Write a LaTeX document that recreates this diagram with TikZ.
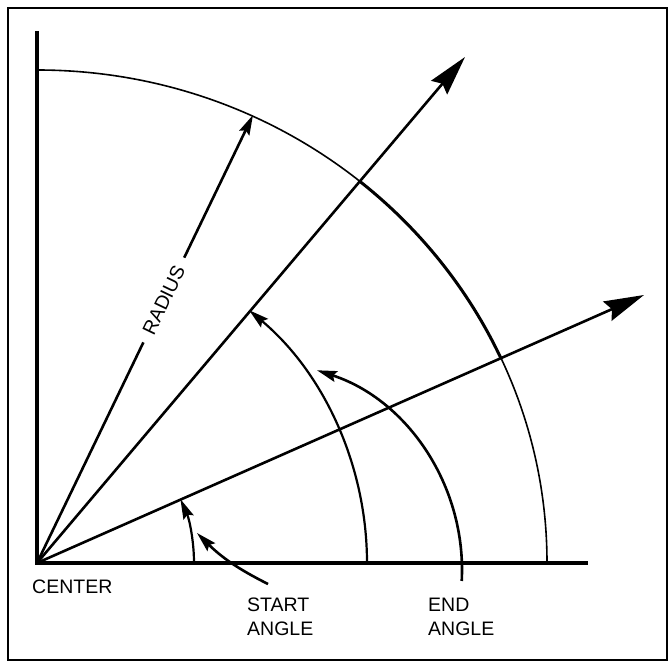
\documentclass[tikz,border=0pt]{standalone}
\usepackage{fontspec}
\setmainfont{Liberation Sans}
\usetikzlibrary{arrows.meta}
\begin{document}
\begin{tikzpicture}[x=1pt,y=1pt,
  bighead/.style={-{Stealth[length=40pt,width=21pt,inset=5pt]}},
  smallhead/.style={-{Stealth[length=20pt,width=11pt,inset=3pt]}},
  lbl/.style={font=\fontsize{19.5}{24}\selectfont, inner sep=0pt, align=left},
  axis/.style={line width=3.2pt},
  ray/.style={line width=2.6pt},
  arcline/.style={line width=2.2pt}]
\useasboundingbox (0,0) rectangle (669,662);
\draw[line width=2.5pt] (8,2) rectangle (667,654);
% key points
\coordinate (C) at (37,99);
\coordinate (vtop) at (37,631);
\coordinate (hend) at (588,99);
\coordinate (r1tip) at (465,605);
\coordinate (r2tip) at (644,367);
\coordinate (radtip) at (253,547);
\coordinate (sptail) at (268,78);
\coordinate (sphead) at (197,129);
% axes
\draw[axis] (vtop) -- (C) -- (hend);
% big arc
\draw[line width=1.6pt] ([shift={(C)}]0:510 and 493) arc[start angle=0,end angle=90,x radius=510,y radius=493];
\draw[line width=3pt] ([shift={(C)}]24.5:510 and 493) arc[start angle=24.5,end angle=50.75,x radius=510,y radius=493];
% rays
\draw[ray,bighead] (C) -- (r1tip);
\draw[ray,bighead] (C) -- (r2tip);
% radius
\path (C) -- (radtip) node[pos=0.587, sloped, lbl, inner xsep=10pt, inner ysep=2pt] (radlbl) {RADIUS};
\draw[ray] (C) -- (radlbl);
\draw[ray,smallhead] (radlbl) -- (radtip);
% angle arcs
\draw[arcline,smallhead] ([shift={(C)}]0:157) arc[start angle=0,end angle=24,radius=157];
\draw[arcline,smallhead] ([shift={(C)}]0:330) arc[start angle=0,end angle=50,radius=330];
\coordinate (EC) at (252,92);
\draw[line width=2.6pt,smallhead] ([shift={(EC)}]-3:210) arc[start angle=-3,end angle=72,radius=210];
% start pointer
\draw[line width=2.6pt,smallhead] (sptail) to[bend left=9] (sphead);
% labels
\node[lbl, anchor=north west] (center) at (32,82) {CENTER};
\node[lbl, anchor=north west] (start) at (247,64) {START\\ANGLE};
\node[lbl, anchor=north west] (end) at (428,64) {END\\ANGLE};
\end{tikzpicture}
\end{document}
